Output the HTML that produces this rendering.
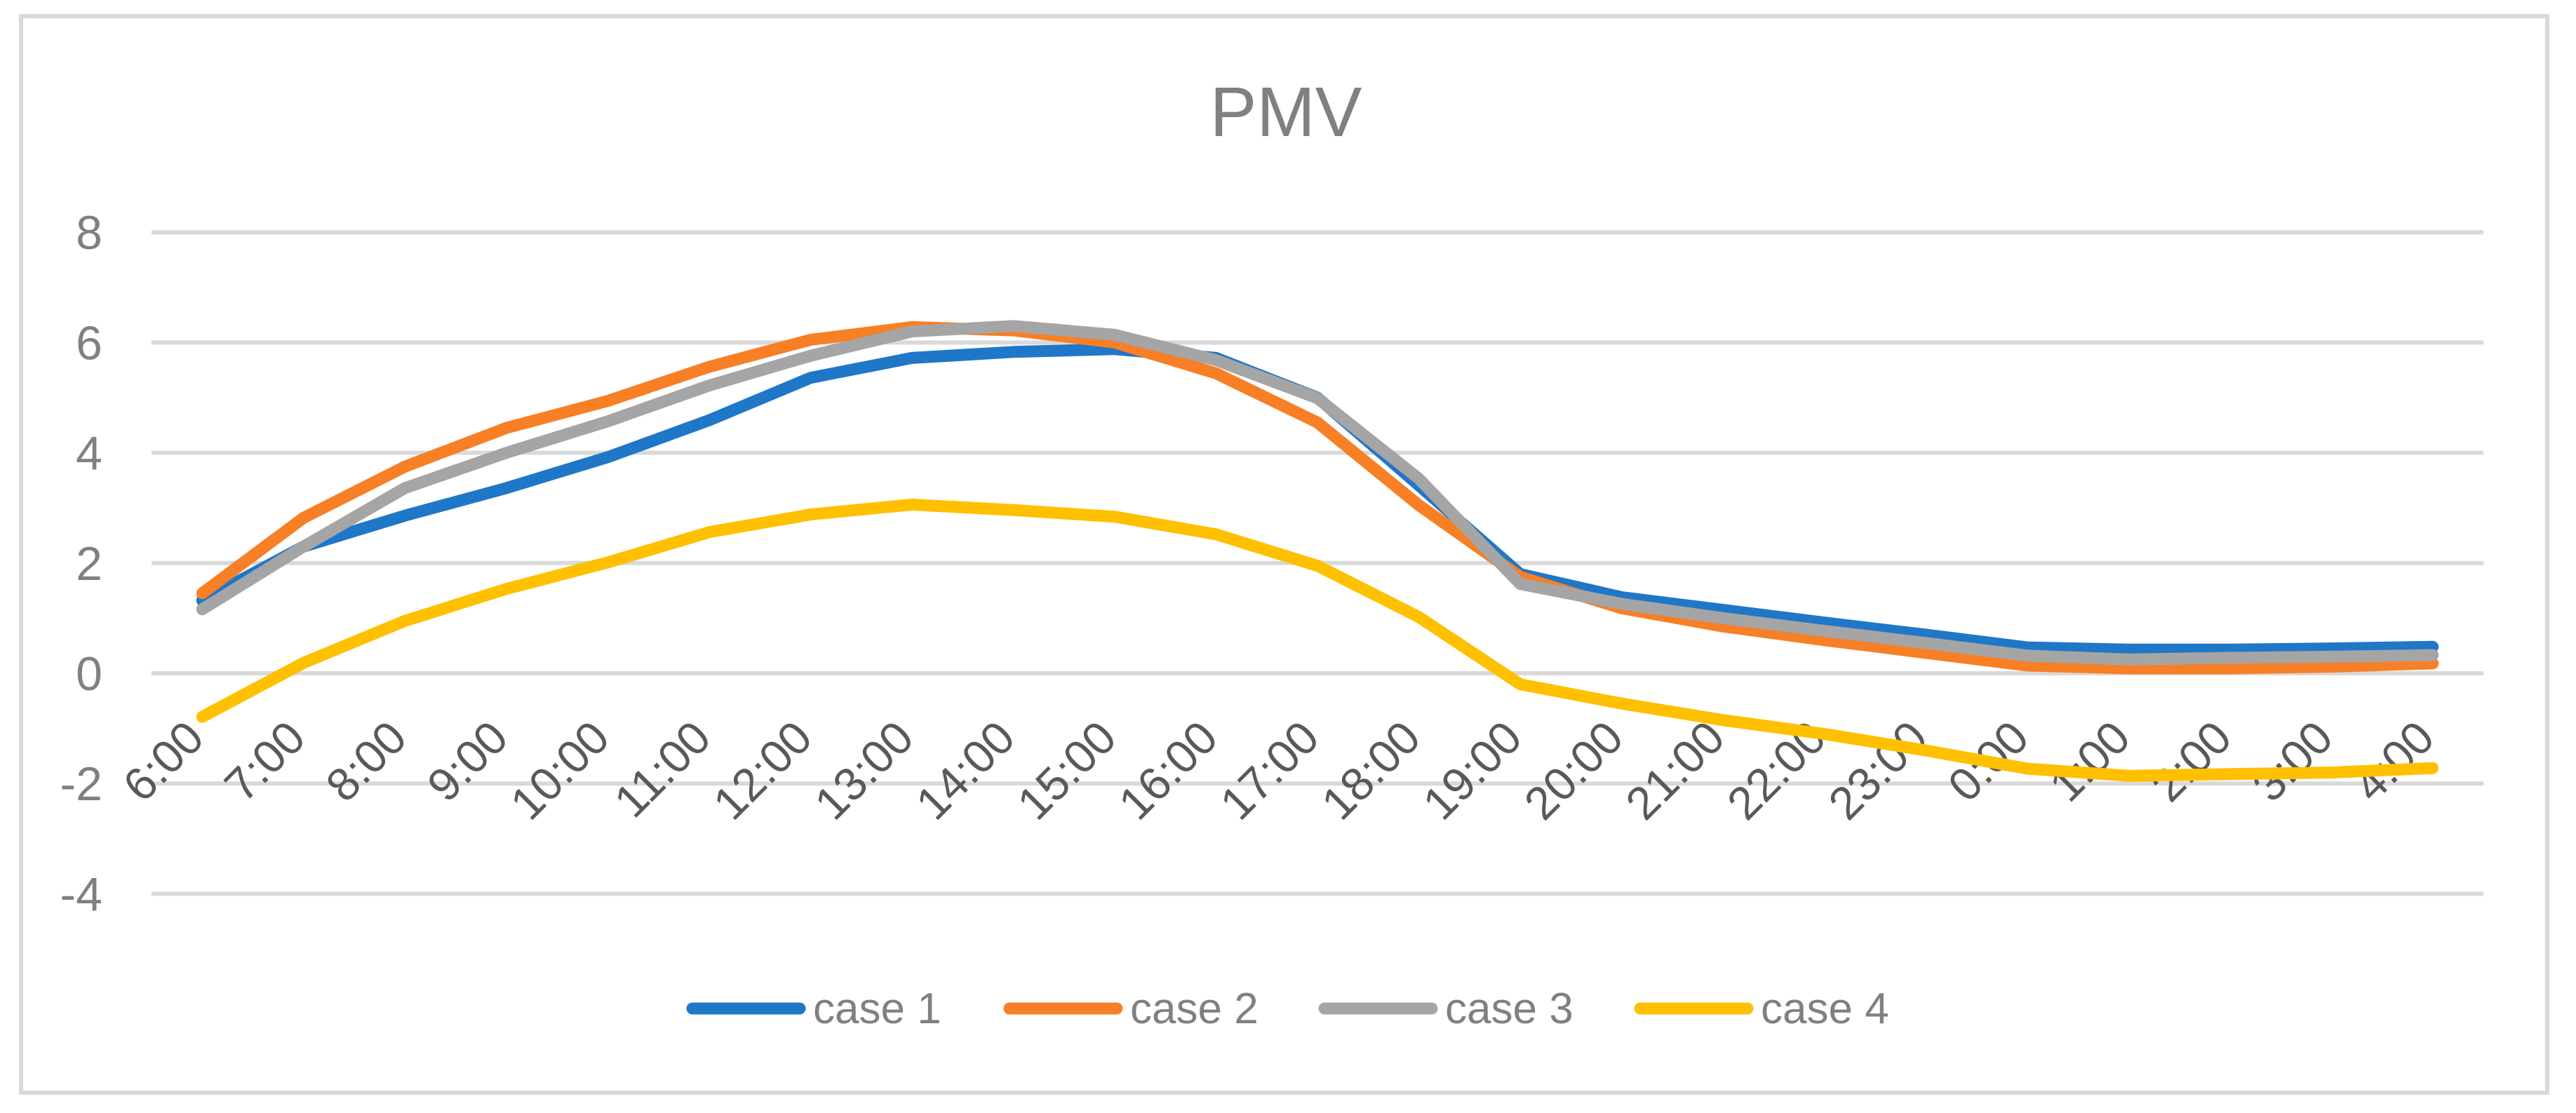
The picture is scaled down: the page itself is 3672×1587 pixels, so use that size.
<!DOCTYPE html>
<html><head><meta charset="utf-8"><style>
html,body{margin:0;padding:0;background:#fff;}
svg{display:block;font-family:"Liberation Sans",sans-serif;}
</style></head><body>
<svg id="chart" width="3672" height="1587" viewBox="0 0 3672 1587" xmlns="http://www.w3.org/2000/svg">
<rect x="30" y="23" width="3601" height="1535" fill="#fff" stroke="#d9d9d9" stroke-width="6"/>
<text x="1833" y="194" text-anchor="middle" font-size="100" fill="#808080">PMV</text>
<g id="grid"></g><g id="ylabels"></g><g id="xlabels"></g><g id="series"></g><g id="legend"></g>
</svg>
<script>
const categories = ["6:00","7:00","8:00","9:00","10:00","11:00","12:00","13:00","14:00","15:00","16:00","17:00","18:00","19:00","20:00","21:00","22:00","23:00","0:00","1:00","2:00","3:00","4:00"];
const case1 = [1.32,2.30,2.86,3.36,3.92,4.59,5.36,5.72,5.83,5.88,5.72,5.00,3.41,1.80,1.38,1.15,0.92,0.70,0.47,0.43,0.43,0.45,0.48];
const case2 = [1.45,2.82,3.75,4.45,4.94,5.56,6.05,6.28,6.22,6.00,5.44,4.55,3.05,1.75,1.18,0.85,0.60,0.37,0.14,0.09,0.09,0.12,0.18];
const case3 = [1.16,2.30,3.36,4.00,4.57,5.22,5.76,6.20,6.30,6.14,5.68,4.99,3.53,1.62,1.26,1.00,0.77,0.55,0.32,0.25,0.28,0.30,0.33];
const case4 = [-0.79,0.19,0.95,1.53,2.01,2.56,2.88,3.06,2.96,2.84,2.52,1.95,1.02,-0.20,-0.55,-0.85,-1.10,-1.40,-1.73,-1.86,-1.83,-1.80,-1.72];
const yTicks = [-4,-2,0,2,4,6,8];
const seriesNames = ["case 1","case 2","case 3","case 4"];
const seriesColors = ["#1f77c8","#f77f26","#a5a5a5","#ffc000"];

const NS="http://www.w3.org/2000/svg";
const plotL=216, plotR=3540;
const y0=960, perUnit=78.6;
const yScale=v=>y0-v*perUnit;
const bandW=(plotR-plotL)/categories.length;
const xScale=i=>plotL+bandW*(i+0.5);
function mk(tag,attrs,parent){const e=document.createElementNS(NS,tag);for(const k in attrs)e.setAttribute(k,attrs[k]);parent.appendChild(e);return e;}

const grid=document.getElementById('grid');
const yl=document.getElementById('ylabels');
yTicks.forEach(t=>{
  const l=mk('line',{x1:plotL,x2:plotR,y1:yScale(t),y2:yScale(t),stroke:'#d9d9d9','stroke-width':6},grid);
  
  
  const tx=mk('text',{x:146,y:yScale(t)+24,'text-anchor':'end','font-size':68,fill:'#808080'},yl);
  tx.textContent=String(t);
  
  
});
const xl=document.getElementById('xlabels');
categories.forEach((c,i)=>{
  const tx=mk('text',{transform:`translate(${xScale(i)+6},1056) rotate(-45)`,'text-anchor':'end','font-size':66,fill:'#595959'},xl);
  tx.textContent=c;
  
  
});
const sg=document.getElementById('series');
[case1,case2,case3,case4].forEach((arr,s)=>{
  const pts=arr.map((v,i)=>xScale(i).toFixed(1)+','+yScale(v).toFixed(1)).join(' ');
  const p=mk('polyline',{points:pts,fill:'none',stroke:seriesColors[s],'stroke-width':17,'stroke-linejoin':'round','stroke-linecap':'round'},sg);
  
  
});
const lg=document.getElementById('legend');
const legX=[979,1431,1880,2330];
seriesNames.forEach((n,s)=>{
  const g=mk('g',{},lg);
  
  
  mk('line',{x1:legX[s]+8,x2:legX[s]+161,y1:1438,y2:1438,stroke:seriesColors[s],'stroke-width':17,'stroke-linecap':'round'},g);
  const t=mk('text',{x:legX[s]+180,y:1459,'font-size':62,fill:'#808080'},g);
  t.textContent=n;
});
</script>
</body></html>
